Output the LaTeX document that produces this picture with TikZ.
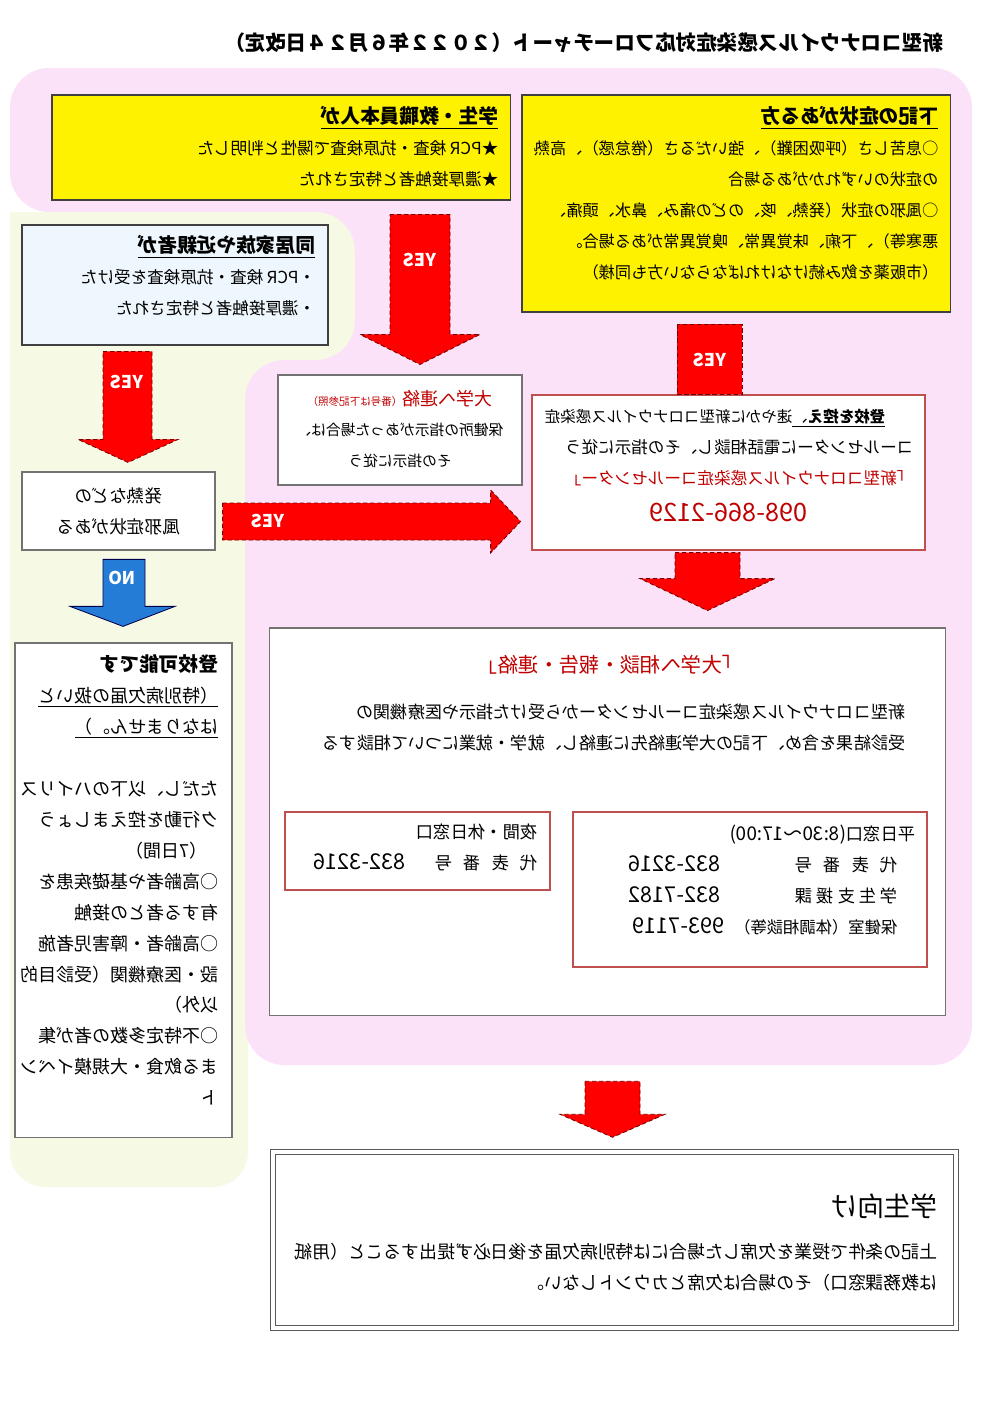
\documentclass[tikz,border=0pt]{standalone}
\usepackage{fontspec}
\setmainfont{Noto Sans CJK JP}
\usepackage{tikz}
\usetikzlibrary{calc}
\definecolor{bgpink}{RGB}{252,226,249}
\definecolor{bggreen}{RGB}{246,250,228}
\definecolor{boxblue}{RGB}{238,247,253}
\definecolor{boxred}{RGB}{192,80,77}
\definecolor{txtred}{RGB}{192,0,0}
\definecolor{arrowred}{RGB}{255,0,0}
\definecolor{arrowblue}{RGB}{36,124,214}
\newcommand{\fsz}[1]{\fontsize{#1}{22pt}\selectfont}
\newcommand{\telno}[1]{{\fontsize{15.5pt}{22pt}\selectfont #1}}

\begin{document}
\begin{tikzpicture}[
    x=0.025cm, y=-0.025cm,
    box/.style={rectangle, draw=black!75, line width=0.8pt, inner sep=0pt},
    ybox/.style={box, fill=yellow},
    bbox/.style={box, fill=boxblue},
    wbox/.style={box, fill=white, draw=black!55},
    rbox/.style={box, fill=white, draw=boxred},
    kbox/.style={box, fill=white, draw=black!65, line width=1pt, double=white, double distance=2.5pt},
    txt/.style={xscale=-1, inner sep=0pt, align=left, anchor=north west, font=\fsz{11.8pt}},
    ctxt/.style={xscale=-1, inner sep=0pt, align=center, font=\fsz{12.5pt}},
    lbl/.style={xscale=-1, inner sep=0pt, text=white, font=\fsz{12.5pt}\bfseries},
    redarrow/.style={fill=arrowred, draw=red!45!black, densely dashed, line width=0.6pt},
    bluearrow/.style={fill=arrowblue, draw=blue!30!black, line width=0.6pt}
]
\useasboundingbox (0,0) rectangle (1004,1427);
\fill[white] (0,0) rectangle (1004,1427);

% Backgrounds
\fill[bggreen] (10,212) -- (360,212) -- (360,400) -- (248,400) [rounded corners=25] -- (248,1187) -- (10,1187) [sharp corners] -- (10,212) -- cycle;
\fill[bgpink, rounded corners=28] (10,68) -- (972,68) -- (972,1065) -- (245,1065) -- (245,360) -- (355,360) -- (355,212) -- (10,212) -- cycle;

% Title
\node[xscale=-1, inner sep=0pt, font=\fsz{14.6pt}\bfseries] (title) at (584,43) {新型コロナウイルス感染症対応フローチャート（２０２２年６月２４日改定）};

% Top: start conditions
\node[ybox, minimum width=11.45cm, minimum height=2.625cm] (boxA) at (281,147.5) {};
\node[txt] (txtA) at ($(boxA.north east)+(-12,12)$) {{\fsz{14pt}\bfseries\underline{学生・教職員本人が}}\\★PCR 検査・抗原検査で陽性と判明した\\★濃厚接触者と特定された};

\node[ybox, minimum width=10.7cm, minimum height=5.425cm] (boxB) at (736,203.5) {};
\node[txt, font=\fsz{11.5pt}] (txtB) at ($(boxB.north east)+(-12,12)$) {{\fsz{14pt}\bfseries\underline{下記の症状がある方}}\\
○息苦しさ（呼吸困難）、強いだるさ（倦怠感）、高熱\\
の症状のいずれかがある場合\\
○風邪の症状（発熱、咳、のどの痛み、鼻水、頭痛、\\
悪寒等）、下痢、味覚異常、嗅覚異常がある場合。\\
（市販薬を飲み続けなければならない方も同様）};

\node[bbox, minimum width=7.65cm, minimum height=3cm] (boxC) at (175,285) {};
\node[txt] (txtC) at ($(boxC.north east)+(-13,11)$) {{\fsz{14pt}\bfseries\underline{同居家族や近親者が}}\\・PCR 検査・抗原検査を受けた\\・濃厚接触者と特定された};

% Middle: contact boxes
\node[wbox, minimum width=6.1cm, minimum height=2.75cm] (boxE) at (400,430) {};
\node[ctxt, font=\fsz{10.5pt}] (txtE) at ($(boxE.center)+(0,-1)$) {\textcolor{txtred}{{\fsz{12.8pt}大学へ連絡}{\fsz{7.5pt}（番号は下記参照）}}\\保健所の指示があった場合は、\\その指示に従う};

\node[rbox, minimum width=9.825cm, minimum height=3.875cm] (boxD) at (728.5,472.5) {};
\node[txt] (txtD) at ($(boxD.north east)+(-12,15)$) {\hspace*{20pt}{\fsz{11pt}\underline{{\bfseries 登校を控え}、}速やかに新型コロナウイルス感染症}\\
コールセンターに電話相談し、その指示に従う\\
\textcolor{txtred}{「新型コロナウイルス感染症コールセンター」}};
\node[ctxt, text=txtred, font=\fsz{18pt}] (telD) at ($(boxD.south)+(0,-38)$) {098-866-2129};

\node[wbox, minimum width=4.825cm, minimum height=1.95cm] (boxF) at (118.5,511) {};
\node[ctxt] (txtF) at (boxF.center) {発熱などの\\風邪症状がある};

% Left: may attend
\node[wbox, minimum width=5.425cm, minimum height=12.35cm] (boxG) at (123.5,890) {};
\node[txt, font=\fsz{12.8pt}] (txtG) at ($(boxG.north east)+(-14,12)$) {{\fsz{14pt}\bfseries 登校可能です}\\
\underline{（特別病欠届の扱いと}\\
\underline{はなりません。）}\\[22pt]
ただし、以下のハイリス\\
ク行動を控えましょう\\
\hspace*{0.6em}（7日間）\\
○高齢者や基礎疾患を\\
有する者との接触\\
○高齢者・障害児者施\\
設・医療機関（受診目的\\
以外）\\
○不特定多数の者が集\\
まる飲食・大規模イベン\\
ト};

% Right: report to university
\node[wbox, minimum width=16.875cm, minimum height=9.675cm] (boxH) at (607.5,821.5) {};
\node[ctxt, text=txtred, font=\fsz{14.5pt}] (titleH) at ($(boxH.north)+(2.5,37)$) {「大学へ相談・報告・連絡」};
\node[txt, font=\fsz{12.2pt}] (txtH) at ($(boxH.north east)+(-40,76)$) {新型コロナウイルス感染症コールセンターから受けた指示や医療機関の\\受診結果を含め、下記の大学連絡先に連絡し、就学・就業について相談する};

\node[rbox, minimum width=6.625cm, minimum height=1.95cm] (boxI) at (417.5,851) {};
\node[txt, font=\fsz{12.3pt}] (txtI) at ($(boxI.north east)+(-13,12)$) {夜間・休日窓口\\\makebox[72.5pt][s]{代\hfil 表\hfil 番\hfil 号}\hspace{21pt}\telno{832-3216}};

\node[rbox, minimum width=8.85cm, minimum height=3.875cm] (boxJ) at (750,889.5) {};
\node[txt, font=\fsz{12.3pt}] (txtJ) at ($(boxJ.north east)+(-12,13)$) {平日窓口{\fsz{13.5pt}(8:30～17:00)}\\
\hspace*{12.8pt}\makebox[115pt][l]{\makebox[72.5pt][s]{代\hfil 表\hfil 番\hfil 号}}\hspace{10.7pt}\telno{832-3216}\\
\hspace*{12.8pt}\makebox[115pt][l]{\makebox[72.5pt][s]{学\hfil 生\hfil 支\hfil 援\hfil 課}}\hspace{10.7pt}\telno{832-7182}\\
\hspace*{12.8pt}\makebox[115pt][l]{\fsz{11.6pt}保健室（体調相談等）}\hspace{8pt}\telno{993-7119}};

% Bottom: students
\node[kbox, minimum width=17.075cm, minimum height=4.4cm] (boxK) at (614.5,1240) {};
\node[txt, font=\fsz{12.7pt}] (txtK) at ($(boxK.north east)+(-19,42)$) {{\fsz{19pt}学生向け}\\[8pt]
上記の条件で授業を欠席した場合には特別病欠届を後日必ず提出すること（用紙\\
は教務課窓口）その場合は欠席とカウントしない。};

% Block arrows
\draw[redarrow] ($(boxE.north)+(-10,-160)$) -- ++(60,0) -- ++(0,120) -- ++(30,0) -- ++(-60,30) -- ++(-60,-30) -- ++(30,0) -- cycle;
\draw[redarrow] ($(boxD.north)+(-51.5,-70)$) rectangle ($(boxD.north)+(13.5,0)$);
\draw[redarrow] ($(boxF.north)+(-15.5,-120)$) -- ++(49,0) -- ++(0,88) -- ++(26,0) -- ++(-50,23) -- ++(-50,-23) -- ++(25,0) -- cycle;
\draw[redarrow] ($(boxF.east)+(7,-8)$) -- ++(268,0) -- ++(0,-13) -- ++(30,31.5) -- ++(-30,31.5) -- ++(0,-13) -- ++(-268,0) -- cycle;
\draw[bluearrow] ($(boxG.north)+(-20.5,-83)$) -- ++(42,0) -- ++(0,47) -- ++(30,0) -- ++(-52,20) -- ++(-53,-20) -- ++(33,0) -- cycle;
\draw[redarrow] ($(boxD.south)+(-53.5,2)$) -- ++(65,0) -- ++(0,26) -- ++(35,0) -- ++(-67.5,32) -- ++(-67.5,-32) -- ++(35,0) -- cycle;
\draw[redarrow] ($(boxK.north)+(-29.5,-70)$) -- ++(55,0) -- ++(0,33) -- ++(25,0) -- ++(-52.5,23) -- ++(-52.5,-23) -- ++(25,0) -- cycle;

% Arrow labels
\node[lbl] (yesA) at (420,260) {YES};
\node[lbl] (yesB) at (710,360) {YES};
\node[lbl] (yesC) at (127,382) {YES};
\node[lbl] (yesF) at (268,521) {YES};
\node[lbl] (noF) at (122,578) {NO};

\end{tikzpicture}
\end{document}
